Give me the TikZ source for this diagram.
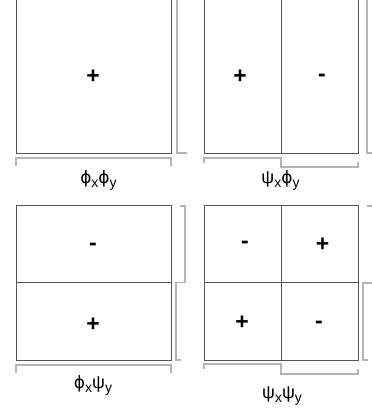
\documentclass[tikz,border=0pt]{standalone}
\usepackage{fontspec}
\setmainfont{Liberation Sans}
\newfontfamily\phifont{DejaVu Sans}
\definecolor{boxgray}{HTML}{555555}
\definecolor{brkgray}{HTML}{B4B4B4}
\newcommand{\mysub}[1]{\raisebox{-4pt}{\fontsize{14}{14}\selectfont #1}}
\newcommand{\myphi}{{\phifont\fontsize{17}{19}\selectfont ϕ}}
\begin{document}
\begin{tikzpicture}[x=1pt,y=-1pt,
  box/.style={draw=boxgray,line width=0.9pt},
  brk/.style={draw=brkgray,line width=1.1pt},
  sign/.style={font=\fontsize{23}{25}\selectfont\bfseries,inner sep=0pt},
  lab/.style={font=\fontsize{18}{20}\selectfont,inner sep=0pt,anchor=base}]
\useasboundingbox (0,0) rectangle (372,408);
\clip (0,0) rectangle (372,408);
% boxes
\draw[box] (16,-5) rectangle (171,153);
\draw[box] (204,-5) rectangle (358,153);
\draw[box] (281,-5) -- (281,153);
\draw[box] (16,205.5) rectangle (171,360);
\draw[box] (16,282.5) -- (171,282.5);
\draw[box] (204,205.5) rectangle (358,360);
\draw[box] (281,205.5) -- (281,360);
\draw[box] (204,282.5) -- (358,282.5);
% brackets
\draw[brk] (16,166) -- (16,158) -- (171,158) -- (171,166);
\draw[brk] (177,-5) -- (177,153) -- (187,153);
\draw[brk] (204,163) -- (204,158) -- (281,158) -- (281,167) -- (358,167) -- (358,162);
\draw[brk] (367,-5) -- (367,153) -- (375,153);
\draw[brk] (16,373) -- (16,365) -- (171,365) -- (171,373);
\draw[brk] (180,206) -- (185,206) -- (185,282.5) -- (176,282.5) -- (176,360) -- (181,360);
\draw[brk] (204,369) -- (204,364) -- (281,364) -- (281,374) -- (358,374) -- (358,369);
\draw[brk] (367,206) -- (373,206) -- (373,283) -- (363,283) -- (363,360) -- (368,360);
% signs
\node[sign] (s1) at (93,77) {+};
\node[sign] (s2) at (240,77) {+};
\node[sign] (s3) at (322,78) {-};
\node[sign] (s4) at (93,247) {-};
\node[sign] (s5) at (93,325) {+};
\node[sign] (s6) at (245,245) {-};
\node[sign] (s7) at (322.5,245) {+};
\node[sign] (s8) at (242,323) {+};
\node[sign] (s9) at (319,325) {-};
% labels
\node[lab] (l1) at (98.5,183) {\myphi\mysub{x}\myphi\mysub{y}};
\node[lab] (l2) at (280.5,183) {ψ\mysub{x}\myphi\mysub{y}};
\node[lab] (l3) at (93,388) {\myphi\mysub{x}ψ\mysub{y}};
\node[lab] (l4) at (282,398) {ψ\mysub{x}ψ\mysub{y}};
\end{tikzpicture}
\end{document}
